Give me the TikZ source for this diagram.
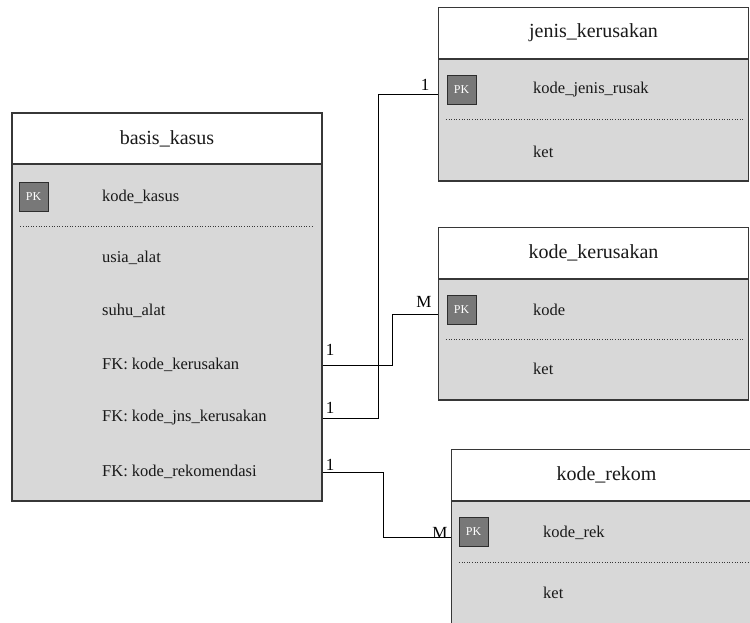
\documentclass[tikz,border=0pt]{standalone}
\usepackage{fontspec}
\setmainfont{Liberation Serif}
\definecolor{bordc}{RGB}{55,55,55}
\definecolor{bodyc}{RGB}{216,216,216}
\definecolor{pkfill}{RGB}{120,120,120}
\definecolor{pkborder}{RGB}{45,45,45}
\definecolor{textc}{RGB}{25,25,25}
\tikzset{
  hdr/.style={draw=bordc, fill=white, line width=1.1pt, minimum width=310, minimum height=51, inner sep=0, font=\fontsize{20}{23}\selectfont, text=textc},
  tbody/.style={draw=bordc, fill=bodyc, line width=1.1pt, minimum width=310, inner sep=0},
  pkbox/.style={draw=pkborder, fill=pkfill, line width=0.9pt, minimum width=29, minimum height=29, inner sep=0, text=white, font=\fontsize{12}{14}\selectfont},
  fld/.style={anchor=west, inner sep=0, font=\fontsize{16.5}{19}\selectfont, text=textc},
  card/.style={inner sep=0, font=\fontsize{17}{19}\selectfont, text=black},
  conn/.style={draw=black, line width=0.9pt},
  sepline/.style={draw=bordc, dotted, line width=0.6pt}
}
\begin{document}
\begin{tikzpicture}[x=1pt,y=-1pt]
\useasboundingbox (0,0) rectangle (750,622);
\fill[white] (0,0) rectangle (750,622);
\clip (0,0) rectangle (750,622);

% basis_kasus
\node[tbody, minimum height=337] (bkb) at (167,332.5) {};
\node[hdr] (bkh) at (167,138.5) {basis\_kasus};
\node[pkbox] (bkpk) at (33.5,196.5) {PK};
\node[fld] (bkf1) at (102,197) {kode\_kasus};
\draw[sepline] ([xshift=9pt]bkb.west |- 0,226) -- ([xshift=-9pt]bkb.east |- 0,226);
\node[fld] (bkf2) at (102,258) {usia\_alat};
\node[fld] (bkf3) at (102,311) {suhu\_alat};
\node[fld] (bkf4) at (102,365) {FK: kode\_kerusakan};
\node[fld] (bkf5) at (102,418) {FK: kode\_jns\_kerusakan};
\node[fld] (bkf6) at (102,472) {FK: kode\_rekomendasi};

% jenis_kerusakan
\node[tbody, minimum height=122] (jkb) at (593.5,120) {};
\node[hdr] (jkh) at (593.5,33) {jenis\_kerusakan};
\node[pkbox] (jkpk) at (461.5,89.5) {PK};
\node[fld] (jkf1) at (533,90) {kode\_jenis\_rusak};
\draw[sepline] ([xshift=8pt]jkb.west |- 0,119) -- ([xshift=-6pt]jkb.east |- 0,119);
\node[fld] (jkf2) at (533,152) {ket};

% kode_kerusakan
\node[tbody, minimum height=121] (kkb) at (593.5,339.5) {};
\node[hdr] (kkh) at (593.5,253) {kode\_kerusakan};
\node[pkbox] (kkpk) at (461.5,309.5) {PK};
\node[fld] (kkf1) at (533,310) {kode};
\draw[sepline] ([xshift=8pt]kkb.west |- 0,339) -- ([xshift=-6pt]kkb.east |- 0,339);
\node[fld] (kkf2) at (533,369) {ket};

% kode_rekom
\node[tbody, minimum height=150] (krb) at (606.5,576) {};
\node[hdr] (krh) at (606.5,475) {kode\_rekom};
\node[pkbox] (krpk) at (473.5,531.5) {PK};
\node[fld] (krf1) at (543,533) {kode\_rek};
\draw[sepline] ([xshift=8pt]krb.west |- 0,562) -- ([xshift=-6pt]krb.east |- 0,562);
\node[fld] (krf2) at (543,593) {ket};

% connectors
\draw[conn] (bkb.east |- bkf5) -- ++(56,0) |- ([yshift=-4.5pt]jkb.west |- jkpk);
\draw[conn] (bkb.east |- bkf4) -- ++(70,0) |- ([yshift=-4.5pt]kkb.west |- kkpk);
\draw[conn] (bkb.east |- bkf6) -- ++(61,0) |- ([yshift=-5.5pt]krb.west |- krpk);

% cardinalities
\node[card] (c1) at (330,350) {1};
\node[card] (c2) at (330,408) {1};
\node[card] (c3) at (330,465) {1};
\node[card] (c4) at (425,85) {1};
\node[card] (c5) at (424,302) {M};
\node[card] (c6) at (440,533) {M};
\end{tikzpicture}
\end{document}
